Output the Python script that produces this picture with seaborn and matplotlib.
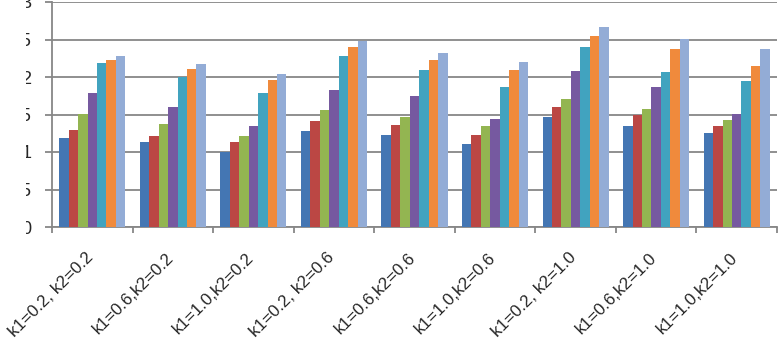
import pandas as pd
import seaborn as sns
import matplotlib.pyplot as plt
from matplotlib.ticker import FixedLocator
from matplotlib.transforms import Bbox, TransformedBbox, ScaledTranslation

categories = ["k1=0.2, k2=0.2", "k1=0.6,k2=0.2", "k1=1.0,k2=0.2",
              "k1=0.2, k2=0.6", "k1=0.6,k2=0.6", "k1=1.0,k2=0.6",
              "k1=0.2, k2=1.0", "k1=0.6,k2=1.0", "k1=1.0,k2=1.0"]

s1 = [1.19, 1.14, 1.00, 1.28, 1.23, 1.11, 1.47, 1.35, 1.26]
s2 = [1.29, 1.21, 1.14, 1.41, 1.36, 1.23, 1.60, 1.49, 1.35]
s3 = [1.51, 1.38, 1.21, 1.56, 1.47, 1.35, 1.71, 1.57, 1.43]
s4 = [1.79, 1.60, 1.35, 1.83, 1.75, 1.44, 2.08, 1.87, 1.51]
s5 = [2.19, 2.00, 1.79, 2.28, 2.09, 1.87, 2.40, 2.07, 1.95]
s6 = [2.22, 2.11, 1.96, 2.40, 2.22, 2.09, 2.55, 2.37, 2.15]
s7 = [2.28, 2.17, 2.04, 2.48, 2.32, 2.20, 2.67, 2.51, 2.37]

series_names = ["s1", "s2", "s3", "s4", "s5", "s6", "s7"]
y_ticks = [0, 0.5, 1, 1.5, 2, 2.5, 3]
y_labels = ["0", "0.5", "1", "1.5", "2", "2.5", "3"]

colors = ["#4476b3", "#bb4744", "#93b551", "#7659a0", "#41a3bf", "#f08a3c", "#93acd6"]

rows = []
for name, vals in zip(series_names, [s1, s2, s3, s4, s5, s6, s7]):
    for cat, v in zip(categories, vals):
        rows.append({"cat": cat, "series": name, "value": v})
df = pd.DataFrame(rows)

sns.set_style("white")
plt.rcParams["font.family"] = ["Liberation Sans", "DejaVu Sans"]

fig = plt.figure(figsize=(7.78, 3.42), dpi=100)
ax = fig.add_axes([52 / 778, 1 - 227 / 342, 725 / 778, 225 / 342])

sns.barplot(data=df, x="cat", y="value", hue="series", palette=colors,
            width=0.82, gap=0, saturation=1, legend=False, ax=ax, zorder=3)
for p in ax.patches:
    p.set_linewidth(0)

grid_c = "#878787"
ax.set_ylim(0, 3)
ax.set_xlim(-0.5, len(categories) - 0.5)
ax.set_yticks(y_ticks)
ax.set_yticklabels(y_labels, fontsize=13)
ax.yaxis.grid(True, color=grid_c, linewidth=1.3, zorder=0)
ax.set_axisbelow(True)
ax.set_xlabel("")
ax.set_ylabel("")

for side in ["top", "right"]:
    ax.spines[side].set_visible(False)
for side in ["left", "bottom"]:
    ax.spines[side].set_color(grid_c)
    ax.spines[side].set_linewidth(1.3)

ax.tick_params(axis="y", which="major", length=5, width=1.3, color=grid_c,
               direction="out", left=True, pad=10)
ax.xaxis.set_minor_locator(FixedLocator([i - 0.5 for i in range(len(categories) + 1)]))
ax.tick_params(axis="x", which="minor", length=4, width=1.3, color=grid_c,
               direction="out", bottom=True)
ax.tick_params(axis="x", which="major", length=0, pad=16.5)
ax.set_xticks(range(len(categories)))
ax.set_xticklabels(categories, rotation=45, ha="right", va="top",
                   rotation_mode="anchor", fontsize=12.2)
shift = ScaledTranslation(-7 / 100, 0, fig.dpi_scale_trans)
for lab in ax.get_xticklabels():
    lab.set_transform(lab.get_transform() + shift)

# left part of the y labels is cut off in the source picture
fig.canvas.draw()
clip = TransformedBbox(Bbox([[26 / 778, 0], [1, 1]]), fig.transFigure)
for lab in ax.get_yticklabels():
    lab.set_clip_box(clip)
    lab.set_clip_on(True)

fig.savefig("out.png", dpi=100, facecolor="white")
